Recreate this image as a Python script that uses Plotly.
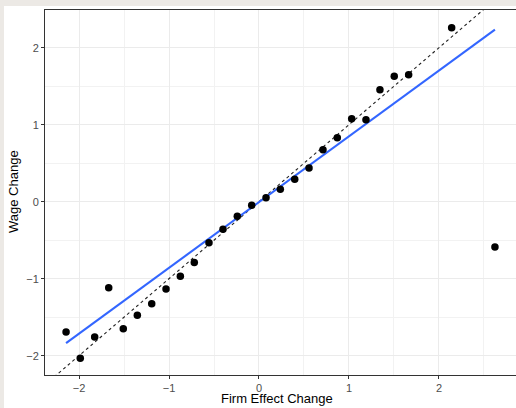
import numpy as np
import plotly.graph_objects as go

# Binned points: firm effect change (x) vs wage change (y)
firm_effect_change = [-2.144, -1.986, -1.826, -1.670, -1.508, -1.352, -1.192, -1.033,
                      -0.874, -0.719, -0.556, -0.400, -0.241, -0.081, 0.078, 0.237,
                      0.397, 0.556, 0.711, 0.870, 1.030, 1.189, 1.344, 1.503, 1.663,
                      2.141, 2.622]
wage_change = [-1.692, -2.034, -1.757, -1.117, -1.649, -1.475, -1.325, -1.134,
               -0.969, -0.790, -0.532, -0.358, -0.190, -0.047, 0.052, 0.161,
               0.291, 0.438, 0.675, 0.831, 1.078, 1.065, 1.455, 1.629, 1.649,
               2.260, -0.588]

# Linear fit and the 45-degree reference line
fit_slope = 0.854
fit_intercept = -0.005
ref_slope = 1.0
ref_intercept = 0.0

x_ticks = [-2, -1, 0, 1, 2]
y_ticks = [-2, -1, 0, 1, 2]
x_range = [-2.378, 2.856]
y_range = [-2.251, 2.490]

fig = go.Figure()

ref_x = np.array(x_range)
fig.add_trace(go.Scatter(
    x=ref_x, y=ref_intercept + ref_slope * ref_x, mode="lines",
    line=dict(color="#222222", width=1.1, dash="3px,3px"),
    hoverinfo="skip", showlegend=False))

fit_x = np.array([min(firm_effect_change), max(firm_effect_change)])
fig.add_trace(go.Scatter(
    x=fit_x, y=fit_intercept + fit_slope * fit_x, mode="lines",
    line=dict(color="#3366FF", width=2.1),
    showlegend=False))

fig.add_trace(go.Scatter(
    x=firm_effect_change, y=wage_change, mode="markers",
    marker=dict(color="black", size=7.5, line=dict(width=0)),
    showlegend=False))

W, H = 516, 408
ml, mr, mt, mb = 45, 0, 10, 33
pw, ph = W - ml - mr, H - mt - mb

def px_x(p):
    return (p - ml) / pw

def px_y(p):
    return (H - mb - p) / ph

# white panel over the beige page background
fig.add_shape(type="rect", xref="paper", yref="paper",
              x0=px_x(4), x1=px_x(520), y0=px_y(412), y1=px_y(6),
              fillcolor="white", line=dict(width=0), layer="below")

axis_common = dict(
    showgrid=True, gridcolor="#ebebeb", gridwidth=1.1,
    zeroline=False, showline=True, linecolor="#333333", linewidth=1.1,
    ticks="outside", ticklen=3, tickwidth=1, tickcolor="#333333",
    tickfont=dict(family="Liberation Sans, Arial, sans-serif", size=11, color="#4d4d4d"),
    minor=dict(dtick=0.5, showgrid=True, gridcolor="#f2f2f2", gridwidth=0.6),
    automargin=False,
)

title_font = dict(family="Liberation Sans, Arial, sans-serif", size=13, color="black")
fig.add_annotation(text="Firm Effect Change", xref="paper", yref="paper",
                   x=px_x(277), y=px_y(398), showarrow=False, font=title_font,
                   xanchor="center", yanchor="middle")
fig.add_annotation(text="Wage Change", xref="paper", yref="paper",
                   x=px_x(14), y=px_y(192), showarrow=False, font=title_font,
                   textangle=-90, xanchor="center", yanchor="middle")

fig.update_layout(
    width=W, height=H,
    margin=dict(l=ml, r=mr, t=mt, b=mb),
    paper_bgcolor="#ece9e5",
    plot_bgcolor="white",
    font=dict(family="Liberation Sans, Arial, sans-serif", color="black"),
    xaxis=dict(axis_common, range=x_range, tickvals=x_ticks, mirror=True),
    yaxis=dict(axis_common, range=y_range, tickvals=y_ticks),
)

fig.write_html("out.html",
               config={"displayModeBar": False},
               post_script="document.body.style.margin='0';document.body.style.overflow='hidden';")
